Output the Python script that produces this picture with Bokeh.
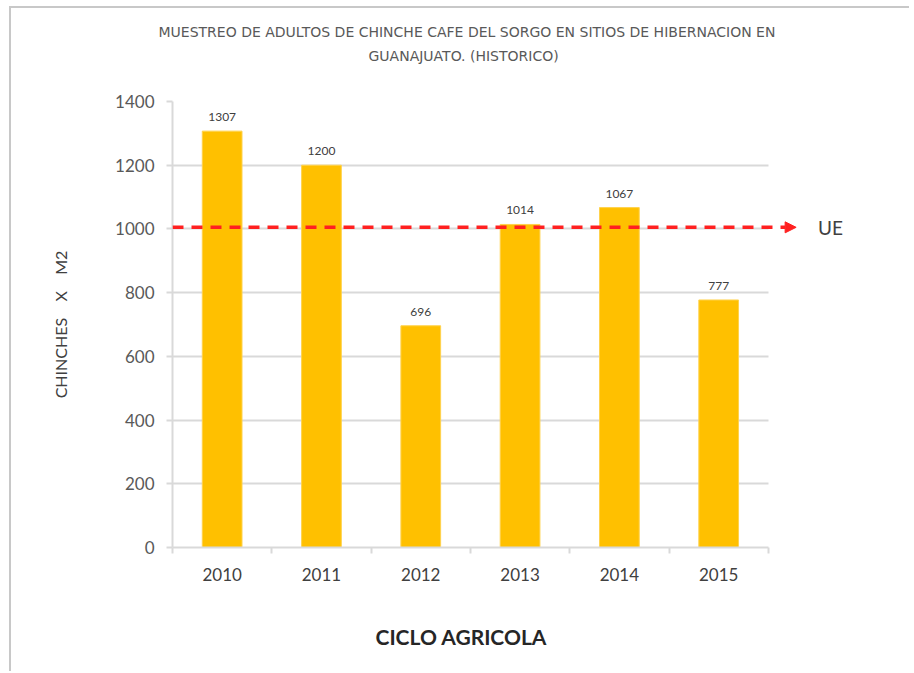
from bokeh.plotting import figure
from bokeh.models import (Range1d, FixedTicker, ColumnDataSource, LabelSet, Label, Title,
                          Arrow, NormalHead)
from bokeh.core.properties import value
from bokeh.embed import file_html
from bokeh.resources import INLINE

# ---- data ----
years = ["2010", "2011", "2012", "2013", "2014", "2015"]
values = [1307, 1200, 696, 1014, 1067, 777]
ue_value = 1005
y_ticks = [0, 200, 400, 600, 800, 1000, 1200, 1400]
title_line1 = "MUESTREO DE ADULTOS DE CHINCHE CAFE DEL SORGO EN SITIOS DE HIBERNACION EN"
title_line2 = "GUANAJUATO. (HISTORICO)"
x_title = "CICLO AGRICOLA"
y_title = "CHINCHES\u00a0\u00a0\u00a0\u00a0X\u00a0\u00a0\u00a0\u00a0M2"
ue_label = "UE"

FONT = "Lato"
n = len(years)
x_pos = [i + 0.5 for i in range(n)]
src = ColumnDataSource(dict(x=x_pos, top=values, lab=[str(v) for v in values]))

X_END = n + 1.2   # extra room on the right for the UE arrow and label

p = figure(width=900, height=665, x_range=Range1d(0, X_END), y_range=Range1d(0, 1400),
           output_backend="svg", toolbar_location=None,
           title=title_line1,
           min_border_left=161, min_border_right=24, min_border_top=93,
           min_border_bottom=126)
p.outline_line_color = None
p.styles = {"border-left": "2px solid #c8c8c8", "border-top": "2px solid #c8c8c8",
            "margin-left": "9px", "margin-top": "6px"}

TITLE_KW = dict(text_font="DejaVu Sans", text_font_size="14px", text_font_style="normal",
                text_color="#595959")
p.title.align = "left"
p.title.offset = -14
p.title.standoff = 12
p.title.text_font = TITLE_KW["text_font"]
p.title.text_font_size = TITLE_KW["text_font_size"]
p.title.text_font_style = "normal"
p.title.text_color = TITLE_KW["text_color"]
# spacer between frame and the second title line
p.add_layout(Title(text=" ", standoff=20, **TITLE_KW), "above")
p.add_layout(Title(text=title_line2, align="left", offset=196, standoff=0, **TITLE_KW), "above")

p.vbar(x="x", top="top", width=0.4, bottom=0, source=src,
       fill_color="#FFC000", line_color="#FFD24D", line_width=1)

labels = LabelSet(x="x", y="top", text="lab", source=src, y_offset=10,
                  text_align="center", text_baseline="bottom",
                  text_font=value(FONT), text_font_size=value("12px"), text_color="#404040")
p.add_layout(labels)

# UE line with arrow
arrow = Arrow(x_start=0, y_start=ue_value, x_end=n + 0.28, y_end=ue_value,
              line_color="#FF2020", line_width=3.5, line_dash="11 8",
              end=NormalHead(size=11, fill_color="#FF2020", line_color="#FF2020", line_width=1))
p.add_layout(arrow)
p.add_layout(Label(x=n + 0.5, y=ue_value, text=ue_label, text_baseline="middle",
                   text_font=FONT, text_font_size="19px", text_color="#404040"))

# axes
p.xgrid.grid_line_color = None
p.ygrid.grid_line_color = "#d9d9d9"
p.ygrid.grid_line_width = 2
p.ygrid.cross_bounds = (0, n)

yax = p.yaxis[0]
yax.ticker = FixedTicker(ticks=y_ticks)
yax.axis_line_color = "#d9d9d9"
yax.axis_line_width = 2
yax.major_tick_line_color = "#d9d9d9"
yax.major_tick_line_width = 2
yax.major_tick_out = 6
yax.major_tick_in = 0
yax.minor_tick_line_color = None
yax.major_label_text_font = FONT
yax.major_label_text_font_size = "17px"
yax.major_label_text_color = "#595959"
yax.major_label_standoff = 12
yax.axis_label = y_title
yax.axis_label_text_font = FONT
yax.axis_label_text_font_size = "16px"
yax.axis_label_text_font_style = "normal"
yax.axis_label_text_color = "#404040"
yax.axis_label_standoff = 42

xax = p.xaxis[0]
xax.bounds = (0, n)
xax.ticker = FixedTicker(ticks=x_pos, minor_ticks=list(range(n + 1)))
xax.major_label_overrides = {x: y for x, y in zip(x_pos, years)}
xax.axis_line_color = "#d9d9d9"
xax.axis_line_width = 2
xax.major_tick_line_color = None
xax.minor_tick_line_color = "#d9d9d9"
xax.minor_tick_line_width = 2
xax.minor_tick_out = 6
xax.minor_tick_in = 0
xax.major_label_text_font = FONT
xax.major_label_text_font_size = "17px"
xax.major_label_text_color = "#404040"
xax.major_label_standoff = 14

# spacer below the axis, then the axis title
p.add_layout(Title(text=" ", standoff=20, **TITLE_KW), "below")
xt = Title(text=x_title, align="left", offset=203, standoff=0, text_font=FONT,
           text_font_size="21px", text_font_style="bold", text_color="#262626")
p.add_layout(xt, "below")

open("out.html", "w").write(file_html(p, INLINE))
